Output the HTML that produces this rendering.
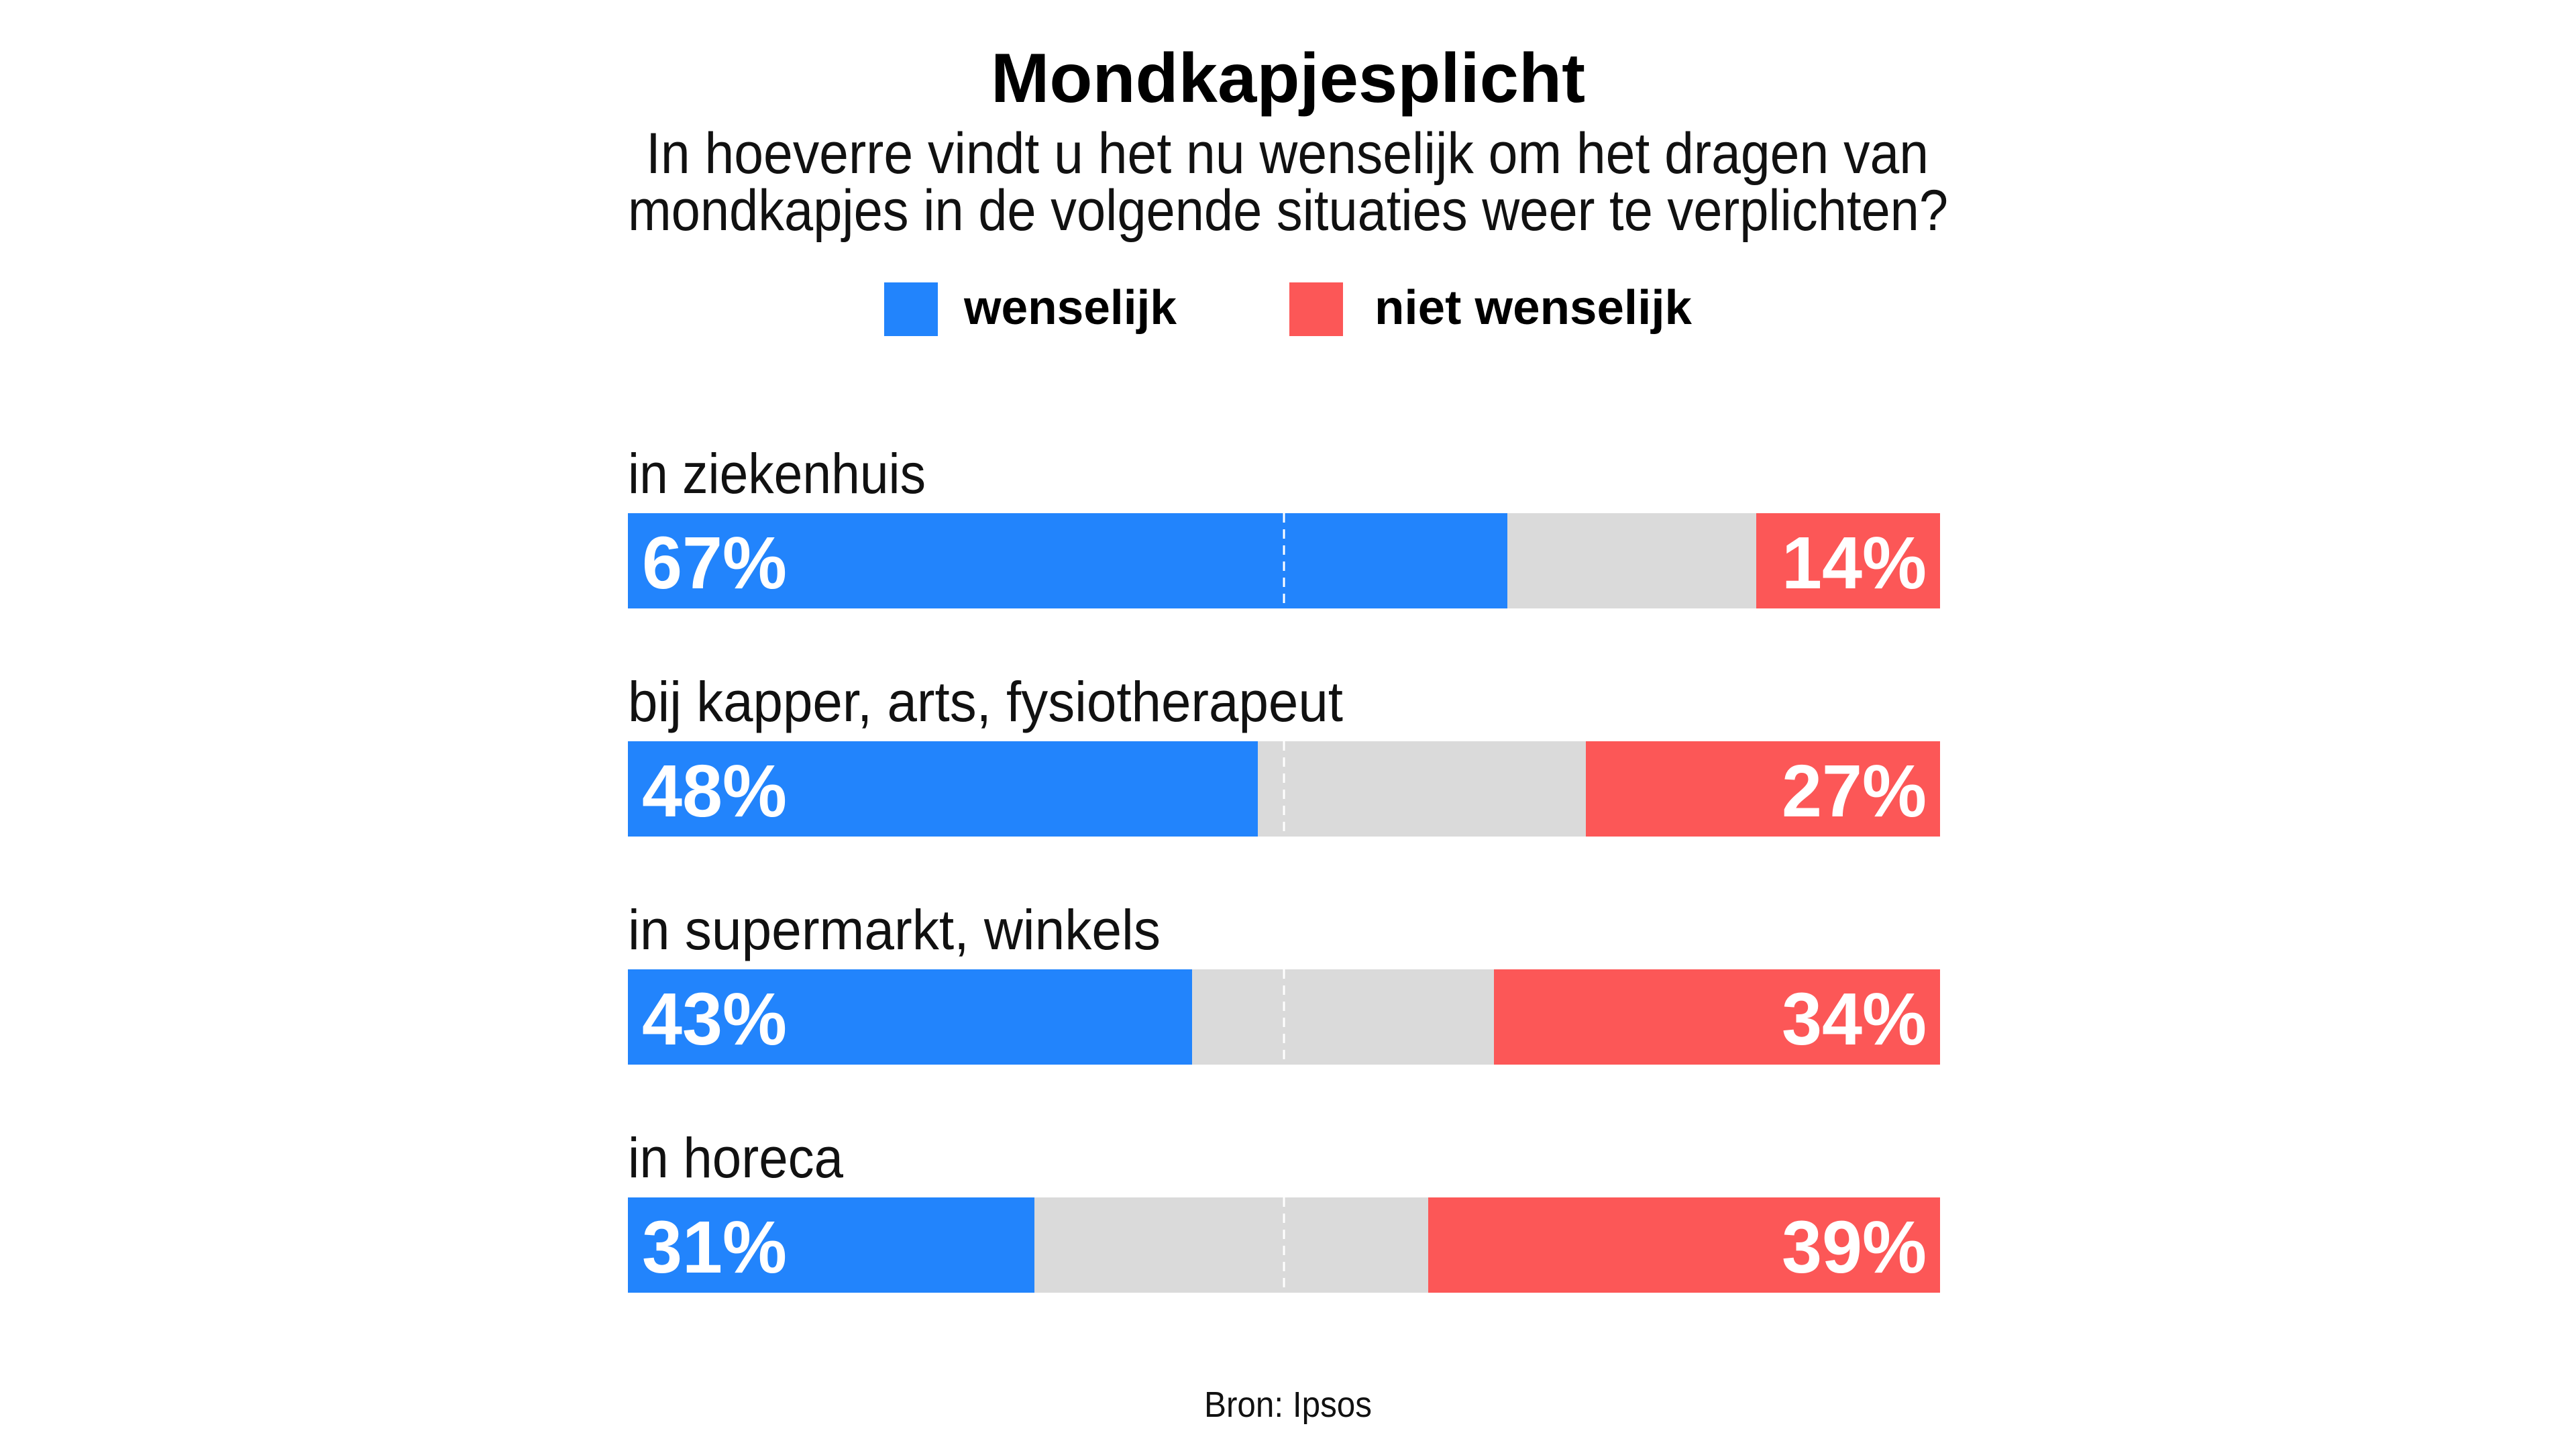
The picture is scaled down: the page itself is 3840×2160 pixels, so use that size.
<!DOCTYPE html>
<html><head><meta charset="utf-8"><style>
html,body{margin:0;padding:0;background:#fff;}
svg{display:block;}
text{font-family:"Liberation Sans",sans-serif;}
</style></head><body>
<svg width="3840" height="2160" viewBox="0 0 3840 2160" xmlns="http://www.w3.org/2000/svg">
<rect width="3840" height="2160" fill="#fff"/>
<text x="1920" y="152" text-anchor="middle" font-size="104" font-weight="bold" fill="#000" textLength="886" lengthAdjust="spacingAndGlyphs">Mondkapjesplicht</text>
<text x="963" y="258" font-size="86" fill="#111" textLength="1912" lengthAdjust="spacingAndGlyphs">In hoeverre vindt u het nu wenselijk om het dragen van</text>
<text x="936" y="343" font-size="86" fill="#111" textLength="1968" lengthAdjust="spacingAndGlyphs">mondkapjes in de volgende situaties weer te verplichten?</text>
<rect x="1318" y="421" width="80" height="80" fill="#2284fc"/>
<text x="1437" y="483" font-size="72" font-weight="bold" fill="#000" textLength="317" lengthAdjust="spacingAndGlyphs">wenselijk</text>
<rect x="1922" y="421" width="80" height="80" fill="#fc5757"/>
<text x="2049" y="483" font-size="72" font-weight="bold" fill="#000" textLength="473" lengthAdjust="spacingAndGlyphs">niet wenselijk</text>

<g font-size="84" fill="#111">
<text x="936" y="735" textLength="444" lengthAdjust="spacingAndGlyphs">in ziekenhuis</text>
<text x="936" y="1075" textLength="1066" lengthAdjust="spacingAndGlyphs">bij kapper, arts, fysiotherapeut</text>
<text x="936" y="1415" textLength="794" lengthAdjust="spacingAndGlyphs">in supermarkt, winkels</text>
<text x="936" y="1755" textLength="321" lengthAdjust="spacingAndGlyphs">in horeca</text>
</g>

<!-- bars: left 936, right 2892, width 1956 -->
<g>
<rect x="936" y="765" width="1956" height="142" fill="#dadada"/>
<rect x="936" y="765" width="1311" height="142" fill="#2284fc"/>
<rect x="2618" y="765" width="274" height="142" fill="#fc5757"/>

<rect x="936" y="1105" width="1956" height="142" fill="#dadada"/>
<rect x="936" y="1105" width="939" height="142" fill="#2284fc"/>
<rect x="2364" y="1105" width="528" height="142" fill="#fc5757"/>

<rect x="936" y="1445" width="1956" height="142" fill="#dadada"/>
<rect x="936" y="1445" width="841" height="142" fill="#2284fc"/>
<rect x="2227" y="1445" width="665" height="142" fill="#fc5757"/>

<rect x="936" y="1785" width="1956" height="142" fill="#dadada"/>
<rect x="936" y="1785" width="606" height="142" fill="#2284fc"/>
<rect x="2129" y="1785" width="763" height="142" fill="#fc5757"/>
</g>
<g stroke="#fff" stroke-width="3" stroke-dasharray="14 10">
<line x1="1914" y1="765" x2="1914" y2="907"/>
<line x1="1914" y1="1105" x2="1914" y2="1247"/>
<line x1="1914" y1="1445" x2="1914" y2="1587"/>
<line x1="1914" y1="1785" x2="1914" y2="1927"/>
</g>
<g font-size="110" font-weight="bold" fill="#fff">
<text x="957" y="877" textLength="216" lengthAdjust="spacingAndGlyphs">67%</text>
<text x="957" y="1217" textLength="216" lengthAdjust="spacingAndGlyphs">48%</text>
<text x="957" y="1557" textLength="216" lengthAdjust="spacingAndGlyphs">43%</text>
<text x="957" y="1897" textLength="216" lengthAdjust="spacingAndGlyphs">31%</text>
<text x="2872" y="877" text-anchor="end" textLength="216" lengthAdjust="spacingAndGlyphs">14%</text>
<text x="2872" y="1217" text-anchor="end" textLength="216" lengthAdjust="spacingAndGlyphs">27%</text>
<text x="2872" y="1557" text-anchor="end" textLength="216" lengthAdjust="spacingAndGlyphs">34%</text>
<text x="2872" y="1897" text-anchor="end" textLength="216" lengthAdjust="spacingAndGlyphs">39%</text>
</g>
<text x="1920" y="2112" text-anchor="middle" font-size="54" fill="#111" textLength="250" lengthAdjust="spacingAndGlyphs">Bron: Ipsos</text>
</svg>
</body></html>
